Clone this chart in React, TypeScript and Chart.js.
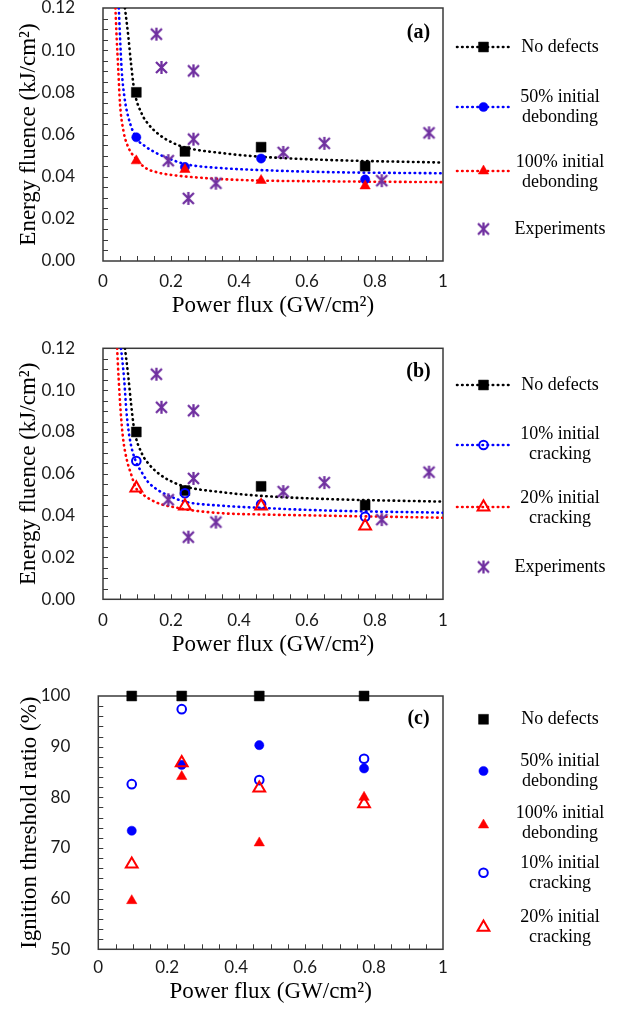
import React, { useEffect, useRef } from 'react';
import { Chart, registerables } from 'chart.js';
import { drawPoint } from 'chart.js/helpers';

Chart.register(...registerables);

// ---------------- data ----------------
// simulated power flux (GW/cm²)
const simFlux = [0.098, 0.241, 0.465, 0.771];
// energy fluence (kJ/cm²)
const noDefectsFluence = [0.080, 0.052, 0.054, 0.045];
const debond50Fluence = [0.0587, 0.0446, 0.0486, 0.0387];
const debond100Fluence = [0.0475, 0.0434, 0.0382, 0.0356];
const crack10Fluence = [0.0661, 0.0507, 0.0454, 0.0395];
const crack20Fluence = [0.0532, 0.0446, 0.0446, 0.0350];

// experiments
const expFlux = [0.157, 0.172, 0.192, 0.251, 0.266, 0.266, 0.332, 0.530, 0.651, 0.820, 0.959];
const expFluence = [0.1076, 0.0918, 0.0476, 0.0297, 0.0902, 0.0578, 0.0369, 0.0515, 0.0558, 0.0381, 0.0608];

// fitted curves
const fitNoDefectsFlux = [0.0645, 0.0745, 0.0824, 0.092, 0.114, 0.133, 0.163, 0.202, 0.241, 0.354, 0.452, 0.648, 1.0];
const fitNoDefectsFluence = [0.12, 0.1065, 0.0937, 0.081, 0.0698, 0.065, 0.0602, 0.0563, 0.0539, 0.0511, 0.0496, 0.048, 0.0467];

const fitDebond50Flux = [0.0465, 0.050, 0.055, 0.063, 0.0745, 0.097, 0.1235, 0.153, 0.192, 0.241, 0.354, 0.452, 0.648, 1.0];
const fitDebond50Fluence = [0.12, 0.1065, 0.0905, 0.0778, 0.0682, 0.0586, 0.0545, 0.0515, 0.0487, 0.046, 0.044, 0.0432, 0.0422, 0.0416];

const fitDebond100Flux = [0.0365, 0.040, 0.045, 0.050, 0.060, 0.0745, 0.094, 0.1235, 0.163, 0.202, 0.241, 0.354, 0.452, 0.648, 1.0];
const fitDebond100Fluence = [0.12, 0.1065, 0.0905, 0.0746, 0.0618, 0.0539, 0.0491, 0.0443, 0.0419, 0.0408, 0.0401, 0.0388, 0.0382, 0.0378, 0.0374];

const fitCrack10Flux = [0.053, 0.062, 0.069, 0.0785, 0.096, 0.113, 0.132, 0.162, 0.201, 0.240, 0.354, 0.452, 0.648, 1.0];
const fitCrack10Fluence = [0.12, 0.1056, 0.0897, 0.077, 0.0661, 0.061, 0.0562, 0.0522, 0.049, 0.0467, 0.0447, 0.0438, 0.0425, 0.0414];

const fitCrack20Flux = [0.0415, 0.046, 0.052, 0.059, 0.069, 0.0835, 0.096, 0.113, 0.142, 0.172, 0.211, 0.25, 0.354, 0.452, 0.648, 1.0];
const fitCrack20Fluence = [0.12, 0.1056, 0.0897, 0.077, 0.0674, 0.0594, 0.0535, 0.0507, 0.0475, 0.0454, 0.044, 0.0428, 0.0411, 0.0406, 0.040, 0.039];

// ignition threshold ratio (%)
const ratioFlux = [0.097, 0.242, 0.467, 0.771];
const noDefectsRatio = [100, 100, 100, 100];
const debond50Ratio = [73.4, 86.4, 90.3, 85.7];
const debond100Ratio = [59.6, 84.1, 71.0, 80.0];
const crack10Ratio = [82.6, 97.4, 83.4, 87.6];
const crack20Ratio = [66.8, 86.8, 81.8, 78.7];

// labels
const labelNoDefects = 'No defects';
const labelDebond50 = '50% initial\ndebonding';
const labelDebond100 = '100% initial\ndebonding';
const labelCrack10 = '10% initial\ncracking';
const labelCrack20 = '20% initial\ncracking';
const labelExperiments = 'Experiments';

const fluxTickLabels = ['0', '0.2', '0.4', '0.6', '0.8', '1'];
const fluenceTickLabels = ['0.00', '0.02', '0.04', '0.06', '0.08', '0.10', '0.12'];
const ratioTickLabels = ['50', '60', '70', '80', '90', '100'];

const fluxTitle = 'Power flux (GW/cm²)';
const fluenceTitle = 'Energy fluence (kJ/cm²)';
const ratioTitle = 'Ignition threshold ratio (%)';

// ---------------- styling ----------------
const SERIF = '"Liberation Serif", "Times New Roman", serif';
const SANS = 'Lato, "Open Sans", sans-serif';
const BLACK = '#000000';
const BLUE = '#0000FF';
const RED = '#FF0000';
const PURPLE = '#7030A0';
const CLEAR = 'rgba(0,0,0,0)';

const toXY = (xs: number[], ys: number[]) => xs.map((x, i) => ({ x, y: ys[i] }));

function asteriskMarker() {
  const c = document.createElement('canvas');
  c.width = 15;
  c.height = 15;
  const g = c.getContext('2d')!;
  g.strokeStyle = PURPLE;
  g.lineWidth = 2.3;
  g.beginPath();
  g.moveTo(2, 2);
  g.lineTo(13, 13);
  g.moveTo(13, 2);
  g.lineTo(2, 13);
  g.moveTo(7.5, 1);
  g.lineTo(7.5, 14);
  g.stroke();
  return c;
}

const fitLine = (xs: number[], ys: number[], color: string, order: number) => ({
  label: '',
  data: toXY(xs, ys),
  showLine: true,
  borderColor: color,
  backgroundColor: color,
  borderWidth: 2.6,
  borderDash: [0.5, 4.6],
  borderCapStyle: 'round',
  pointRadius: 0,
  pointHoverRadius: 0,
  cubicInterpolationMode: 'monotone',
  fill: false,
  order,
});

const markers = (
  label: string, xs: number[], ys: number[], style: any, radius: number,
  fill: string, stroke: string, bw: number, order: number,
) => ({
  label,
  data: toXY(xs, ys),
  showLine: false,
  pointStyle: style,
  pointRadius: radius,
  pointHoverRadius: radius,
  pointBackgroundColor: fill,
  pointBorderColor: stroke,
  pointBorderWidth: bw,
  borderColor: stroke,
  backgroundColor: fill,
  clip: false,
  order,
});

const framePlugin = {
  id: 'frameTicks',
  beforeDatasetsDraw(chart: any) {
    const { ctx, chartArea } = chart;
    const { left, top, right, bottom } = chartArea;
    const xs = chart.scales.x;
    const ys = chart.scales.y;
    ctx.save();
    ctx.strokeStyle = '#3a3a3a';
    ctx.lineWidth = 1;
    ctx.beginPath();
    xs.ticks.forEach((t: any) => {
      const px = Math.round(xs.getPixelForValue(t.value)) + 0.5;
      if (px > left + 2 && px < right - 2) {
        ctx.moveTo(px, bottom);
        ctx.lineTo(px, bottom - 5);
      }
    });
    ys.ticks.forEach((t: any) => {
      const py = Math.round(ys.getPixelForValue(t.value)) + 0.5;
      if (py > top + 2 && py < bottom - 2) {
        ctx.moveTo(left, py);
        ctx.lineTo(left + 5, py);
      }
    });
    ctx.stroke();
    ctx.lineWidth = 1.5;
    ctx.strokeRect(left, top, right - left, bottom - top);
    ctx.restore();
  },
};

const sideLegendPlugin = {
  id: 'sideLegend',
  afterDraw(chart: any, _args: any, opts: any) {
    const ctx = chart.ctx;
    ctx.save();
    for (const item of opts.items || []) {
      const ds: any = chart.data.datasets[item.ds];
      const color = ds.pointBorderColor;
      if (item.line) {
        ctx.save();
        ctx.strokeStyle = color;
        ctx.lineWidth = 2.6;
        ctx.setLineDash([0.5, 4.6]);
        ctx.lineCap = 'round';
        ctx.beginPath();
        ctx.moveTo(457, item.y);
        ctx.lineTo(511, item.y);
        ctx.stroke();
        ctx.restore();
      }
      ctx.save();
      ctx.fillStyle = ds.pointBackgroundColor;
      ctx.strokeStyle = ds.pointBorderColor;
      ctx.lineWidth = ds.pointBorderWidth;
      drawPoint(ctx, {
        pointStyle: ds.pointStyle,
        rotation: 0,
        radius: ds.pointRadius,
        borderWidth: ds.pointBorderWidth,
      } as any, 483.5, item.y);
      ctx.restore();
      const lines = String(ds.label).split('\n');
      const lh = 20;
      const ty = item.ty !== undefined ? item.ty : item.y;
      const y0 = ty - ((lines.length - 1) * lh) / 2;
      ctx.fillStyle = '#000';
      ctx.font = `18px ${SERIF}`;
      ctx.textAlign = 'center';
      ctx.textBaseline = 'middle';
      lines.forEach((l: string, i: number) => ctx.fillText(l, 560, y0 + i * lh));
    }
    if (opts.tag) {
      ctx.fillStyle = '#000';
      ctx.font = `bold 20px ${SERIF}`;
      ctx.textAlign = 'center';
      ctx.textBaseline = 'middle';
      ctx.fillText(opts.tag, 418.5, opts.tagY);
    }
    ctx.restore();
  },
};

const labelFrom = (labels: string[]) => {
  const vals = labels.map(Number);
  return (value: any) => {
    const v = Number(value);
    const i = vals.findIndex((t) => Math.abs(t - v) < 1e-9);
    return i >= 0 ? labels[i] : '';
  };
};

const tickList = (min: number, step: number, count: number) =>
  Array.from({ length: count }, (_, i) => ({ value: Math.round((min + i * step) * 1e6) / 1e6 }));

function scales(opts: {
  yMin: number; yMax: number; yStep: number; yCount: number; yLabels: string[]; yTitle: string;
  yWidth: number; yTitlePad: number; xTickPad: number; xTitlePad: number;
}) {
  return {
    x: {
      type: 'linear',
      min: 0,
      max: 1,
      afterBuildTicks: (s: any) => { s.ticks = tickList(0, 0.05, 21); },
      afterFit: (s: any) => { s.height = 60; s.paddingLeft = 0; s.paddingRight = 0; },
      ticks: {
        autoSkip: false,
        maxRotation: 0,
        minRotation: 0,
        padding: opts.xTickPad,
        color: '#1a1a1a',
        font: { family: SANS, size: 17 },
        callback: labelFrom(fluxTickLabels),
      },
      grid: { display: false },
      border: { display: false },
      title: {
        display: true,
        text: fluxTitle,
        color: '#000',
        font: { family: SERIF, size: 23 },
        padding: { top: 0, bottom: opts.xTitlePad },
      },
    },
    y: {
      type: 'linear',
      min: opts.yMin,
      max: opts.yMax,
      afterBuildTicks: (s: any) => { s.ticks = tickList(opts.yMin, opts.yStep, opts.yCount); },
      afterFit: (s: any) => { s.width = opts.yWidth; s.paddingTop = 0; s.paddingBottom = 0; },
      ticks: {
        autoSkip: false,
        padding: 20,
        color: '#1a1a1a',
        font: { family: SANS, size: 17 },
        callback: labelFrom(opts.yLabels),
      },
      grid: { display: false },
      border: { display: false },
      title: {
        display: true,
        text: opts.yTitle,
        color: '#000',
        font: { family: SERIF, size: 23 },
        padding: { top: opts.yTitlePad, bottom: 0 },
      },
    },
  };
}

function fluenceChart(kind: 'a' | 'b', star: HTMLCanvasElement) {
  const isA = kind === 'a';
  const datasets: any[] = [
    fitLine(fitNoDefectsFlux, fitNoDefectsFluence, BLACK, 12),
    isA ? fitLine(fitDebond50Flux, fitDebond50Fluence, BLUE, 11) : fitLine(fitCrack10Flux, fitCrack10Fluence, BLUE, 11),
    isA ? fitLine(fitDebond100Flux, fitDebond100Fluence, RED, 10) : fitLine(fitCrack20Flux, fitCrack20Fluence, RED, 10),
    markers(labelNoDefects, simFlux, noDefectsFluence, 'rect', 7, BLACK, BLACK, 0.5, 5),
    isA
      ? markers(labelDebond50, simFlux, debond50Fluence, 'circle', 4.6, BLUE, BLUE, 0.5, 4)
      : markers(labelCrack10, simFlux, crack10Fluence, 'circle', 4.3, CLEAR, BLUE, 2, 4),
    isA
      ? markers(labelDebond100, simFlux, debond100Fluence, 'triangle', 6, RED, RED, 0.5, 3)
      : markers(labelCrack20, simFlux, crack20Fluence, 'triangle', 6.8, CLEAR, RED, 2, 3),
    markers(labelExperiments, expFlux, expFluence, star, 7, PURPLE, PURPLE, 0, 2),
  ];
  const legendItems = isA
    ? [
        { ds: 3, y: 47, line: true },
        { ds: 4, y: 107, line: true },
        { ds: 5, y: 171, ty: 172, line: true },
        { ds: 6, y: 229, line: false },
      ]
    : [
        { ds: 3, y: 55, line: true },
        { ds: 4, y: 115, ty: 114.2, line: true },
        { ds: 5, y: 177, ty: 178.7, line: true },
        { ds: 6, y: 237, line: false },
      ];
  return {
    type: 'scatter',
    data: { datasets },
    options: {
      responsive: false,
      animation: false,
      devicePixelRatio: 1,
      events: [],
      layout: isA
        ? { padding: { left: 0, right: 180, top: 8, bottom: 9 } }
        : { padding: { left: 0, right: 180, top: 18.3, bottom: 0.7 } },
      plugins: {
        legend: { display: false },
        tooltip: { enabled: false },
        sideLegend: { items: legendItems, tag: isA ? '(a)' : '(b)', tagY: isA ? 32.5 : 41.7 },
      },
      scales: scales({
        yMin: 0, yMax: 0.12, yStep: 0.005, yCount: 25, yLabels: fluenceTickLabels, yTitle: fluenceTitle,
        yWidth: 103, yTitlePad: 15, xTickPad: isA ? 2 : 3.5, xTitlePad: isA ? 1 : 0.5,
      }),
    },
    plugins: [framePlugin, sideLegendPlugin],
  };
}

function ratioChart() {
  const datasets: any[] = [
    markers(labelNoDefects, ratioFlux, noDefectsRatio, 'rect', 7, BLACK, BLACK, 0.5, 6),
    markers(labelDebond50, ratioFlux, debond50Ratio, 'circle', 4.6, BLUE, BLUE, 0.5, 5),
    markers(labelDebond100, ratioFlux, debond100Ratio, 'triangle', 6, RED, RED, 0.5, 4),
    markers(labelCrack10, ratioFlux, crack10Ratio, 'circle', 4.3, CLEAR, BLUE, 2, 3),
    markers(labelCrack20, ratioFlux, crack20Ratio, 'triangle', 6.8, CLEAR, RED, 2, 2),
  ];
  return {
    type: 'scatter',
    data: { datasets },
    options: {
      responsive: false,
      animation: false,
      devicePixelRatio: 1,
      events: [],
      layout: { padding: { left: 0, right: 180, top: 36, bottom: 12.7 } },
      plugins: {
        legend: { display: false },
        tooltip: { enabled: false },
        sideLegend: {
          items: [
            { ds: 0, y: 59.3, line: false },
            { ds: 1, y: 111, ty: 111.7, line: false },
            { ds: 2, y: 165, ty: 163.3, line: false },
            { ds: 3, y: 212.7, ty: 213.3, line: false },
            { ds: 4, y: 267.3, ty: 267, line: false },
          ],
          tag: '(c)',
          tagY: 59.3,
        },
      },
      scales: scales({
        yMin: 50, yMax: 100, yStep: 2, yCount: 26, yLabels: ratioTickLabels, yTitle: ratioTitle,
        yWidth: 98.3, yTitlePad: 16, xTickPad: 0.5, xTitlePad: 3.5,
      }),
    },
    plugins: [framePlugin, sideLegendPlugin],
  };
}

export default function App() {
  const refA = useRef<HTMLCanvasElement>(null);
  const refB = useRef<HTMLCanvasElement>(null);
  const refC = useRef<HTMLCanvasElement>(null);

  useEffect(() => {
    const star = asteriskMarker();
    const charts = [
      new Chart(refA.current!, fluenceChart('a', star) as any),
      new Chart(refB.current!, fluenceChart('b', star) as any),
      new Chart(refC.current!, ratioChart() as any),
    ];
    return () => charts.forEach((c) => c.destroy());
  }, []);

  const cs = (top: number, h: number): React.CSSProperties => ({
    position: 'absolute', left: 0, top, width: 623, height: h, display: 'block',
  });

  return (
    <div style={{ position: 'absolute', left: 0, top: 0, width: 623, height: 1022, background: '#fff' }}>
      <canvas ref={refA} width={623} height={330} style={cs(0, 330)} />
      <canvas ref={refB} width={623} height={330} style={cs(330, 330)} />
      <canvas ref={refC} width={623} height={362} style={cs(660, 362)} />
    </div>
  );
}
